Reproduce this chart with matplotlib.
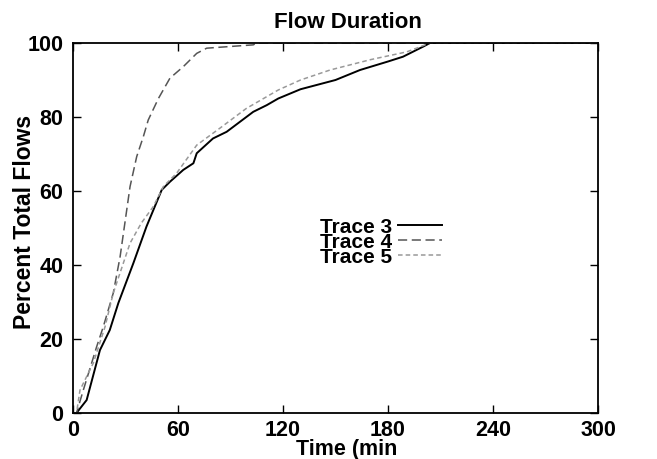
import matplotlib
matplotlib.use("Agg")
import matplotlib.pyplot as plt

plt.rcParams['font.family'] = ['Liberation Sans', 'DejaVu Sans']
plt.rcParams['font.weight'] = 'bold'

# Trace 3 (solid)
t3_time = [0, 2, 7.8, 15.4, 21, 25.9, 34.5, 42, 50.7, 55.4, 63, 68.8, 70.7, 80, 87.8, 95.4,
           103, 110.7, 117.3, 130, 150, 164, 180, 188.6, 200, 204, 300]
t3_pct = [0, 0, 3.5, 17, 22.4, 29.7, 40.5, 50.4, 60.3, 62.5, 65.7, 67.5, 70.2, 74.2, 76, 78.7,
          81.4, 83.2, 85, 87.5, 90, 92.7, 95, 96.3, 99, 100, 100]
# Trace 4 (dashed)
t4_time = [0, 2, 5.9, 13.5, 17.3, 23, 26.9, 32.6, 36.4, 40.2, 43, 48.8, 55.4, 63, 70.7, 76.4,
           103, 105, 300]
t4_pct = [0, 0, 6.2, 17.9, 23.3, 32.4, 42.2, 61.2, 69.3, 74.7, 79.2, 85, 90.5, 93.6, 97.2, 98.6,
          99.5, 100, 100]
# Trace 5 (dotted)
t5_time = [0, 2, 4, 11.6, 18.3, 23, 32.6, 39, 45.9, 51.6, 59.2, 70.7, 84, 99, 117.3, 130,
           146.9, 170, 190.7, 204, 300]
t5_pct = [0, 0, 6.2, 13.5, 23.3, 32.4, 45.9, 51.3, 55.8, 61.2, 64.8, 72.4, 77, 82.3, 87.3, 90,
          92.7, 95.5, 97.6, 100, 100]

labels = ["Trace 3", "Trace 4", "Trace 5"]
xticks = [0, 60, 120, 180, 240, 300]
yticks = [0, 20, 40, 60, 80, 100]

W, H = 657, 459
fig = plt.figure(figsize=(W / 100, H / 100), dpi=100)
ax = fig.add_axes([73 / W, 1 - 413 / H, 525 / W, 370 / H])

ax.plot(t3_time, t3_pct, color='black', lw=1.4, label=labels[0])
ax.plot(t4_time, t4_pct, color='#555555', lw=1.1, dashes=(6, 3), label=labels[1])
ax.plot(t5_time, t5_pct, color='#999999', lw=1.1, dashes=(3, 2), label=labels[2])

ax.set_xlim(0, 300)
ax.set_ylim(0, 100)
ax.set_xticks(xticks)
ax.set_yticks(yticks)
ax.tick_params(direction='in', top=True, right=True, length=6, width=1, labelsize=15.5)
ax.tick_params(axis='x', pad=5)
ax.tick_params(axis='y', pad=7)
for lab in ax.get_xticklabels() + ax.get_yticklabels():
    lab.set_fontweight('bold')
for s in ax.spines.values():
    s.set_linewidth(1.3)

fig.text(348 / W, 1 - 28 / H, "Flow Duration", fontsize=16, fontweight='bold',
         ha='center', va='baseline')
fig.text(347 / W, 1 - 455 / H, "Time (min", fontsize=15.5, fontweight='bold',
         ha='center', va='baseline')
fig.text(25 / W, 1 - 222 / H, "Percent Total Flows", fontsize=16.5, fontweight='bold',
         ha='center', va='center', rotation=90)

leg = ax.legend(loc='center', bbox_to_anchor=(0.587, 0.462), markerfirst=False, frameon=False,
                labelspacing=-0.19, handlelength=2.1, handletextpad=0.3, borderpad=0,
                prop={'weight': 'bold', 'size': 15})

fig.savefig("out.png", dpi=100)
